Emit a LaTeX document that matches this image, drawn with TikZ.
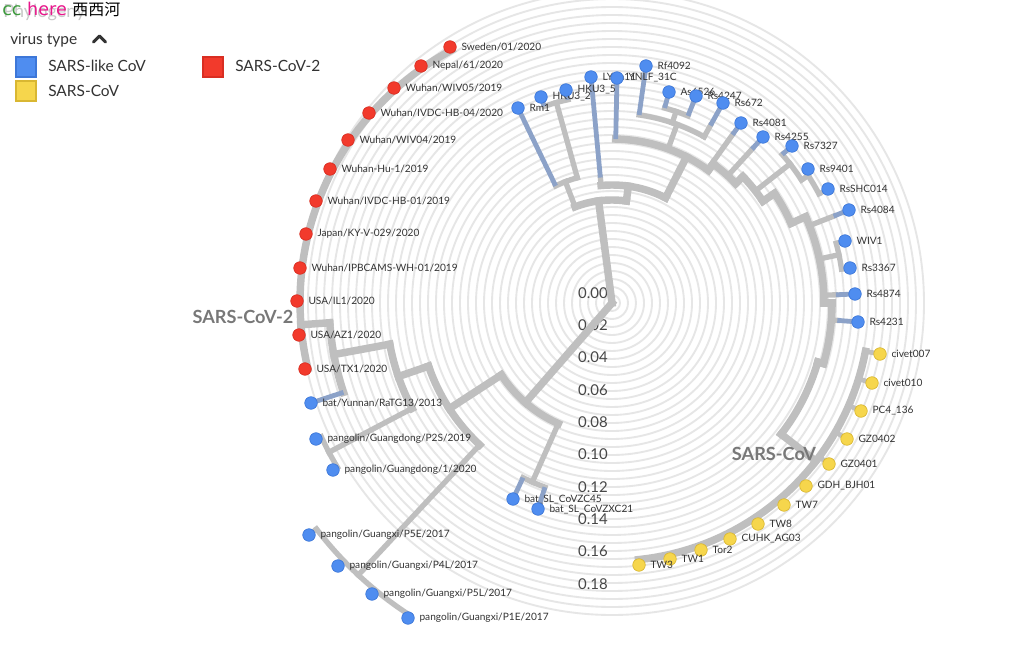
\documentclass[tikz,border=0pt]{standalone}
\usepackage{fontspec}
\setmainfont{Lato}
\newfontfamily\cjk{Noto Sans CJK SC}
\newfontfamily\dejavu{DejaVu Sans}
\definecolor{brg}{HTML}{BFBFBF}
\definecolor{leafb}{HTML}{8CA2C8}
\definecolor{ringc}{HTML}{E6E6E6}
\definecolor{dotb}{HTML}{4F8DF0}
\definecolor{dotbd}{HTML}{3D77D8}
\definecolor{dotr}{HTML}{F23A2C}
\definecolor{dotrd}{HTML}{D92E22}
\definecolor{doty}{HTML}{F6D64C}
\definecolor{dotyd}{HTML}{D9B732}
\definecolor{txt}{HTML}{333333}
\definecolor{cladec}{HTML}{787878}
\definecolor{ccg}{HTML}{3C9A3C}
\definecolor{herem}{HTML}{E8168B}
\definecolor{phyl}{HTML}{C8C8C8}
\tikzset{
 br/.style={draw=brg, line width=4pt, line cap=rect},
 brk/.style={draw=brg, line width=5.6pt, line cap=rect},
 lf/.style={draw=leafb, line width=3.6pt},
 lfg/.style={draw=brg, line width=3.6pt},
 ring/.style={draw=ringc, line width=1.4pt},
 tipb/.style={circle, fill=dotb, draw=dotbd, line width=0.5pt, minimum size=9.4pt, inner sep=0pt},
 tipr/.style={circle, fill=dotr, draw=dotrd, line width=0.5pt, minimum size=9.4pt, inner sep=0pt},
 tipy/.style={circle, fill=doty, draw=dotyd, line width=0.5pt, minimum size=9.4pt, inner sep=0pt},
 tiplab/.style={anchor=west, font=\fontsize{7.6}{9}\selectfont, text=txt, inner sep=0pt},
 scal/.style={anchor=east, font=\fontsize{11.2}{12}\selectfont, text=txt!90, inner sep=0pt},
 cladelab/.style={anchor=base, font=\bfseries\fontsize{13.6}{14}\selectfont, text=cladec, inner sep=0pt},
 leglab/.style={anchor=base west, font=\fontsize{11.6}{12}\selectfont, text=txt, inner sep=0pt},
 legsq/.style={line width=0.8pt}
}
\newcommand\rad[4][br]{\draw[#1] (#2:#3) -- (#2:#4);}
\newcommand\arcr[4][br]{\draw[#1] plot[domain=#3:#4,samples=40,variable=\t] (\t:#2);}
\newcommand\tipnode[3]{\node[#2] (#1d) at (#1) {};\node[tiplab] (#1l) at ([xshift=3.5pt]#1d.east) {#3};}
\begin{document}
\begin{tikzpicture}[x=0.75pt,y=-0.75pt]
\useasboundingbox (0,0) rectangle (1024,645);
\fill[white] (0,0) rectangle (1024,645);
% rings
\begin{scope}[shift={(612,303)}]
\foreach \k in {1,...,39} {\draw[ring] (0,0) circle[radius=6*\k pt];}
\end{scope}
% scale labels
\foreach \v [count=\i from 0] in {0.00,0.02,0.04,0.06,0.08,0.10,0.12,0.14,0.16,0.18} {
  \node[scal] (s\i) at (608,{293+32.3*\i}) {\v};
}
% tip coordinates
\coordinate (sweden) at (450,47);
\coordinate (nepal) at (421,66);
\coordinate (wiv05) at (394,88);
\coordinate (hb04) at (369,113);
\coordinate (wiv04) at (348,140);
\coordinate (hu1) at (330,169);
\coordinate (hb01) at (316,201);
\coordinate (japan) at (306,234);
\coordinate (ipb) at (300,268);
\coordinate (il1) at (297,301);
\coordinate (az1) at (299,335);
\coordinate (tx1) at (305,369);
\coordinate (ratg) at (311,403);
\coordinate (p2s) at (316,439);
\coordinate (gd1) at (333,470);
\coordinate (p5e) at (309,535);
\coordinate (p4l) at (338,566);
\coordinate (p5l) at (372,594);
\coordinate (p1e) at (408,618);
\coordinate (zc45) at (513,499);
\coordinate (zxc21) at (538,509);
\coordinate (rm1) at (518,108);
\coordinate (hku32) at (541,97);
\coordinate (hku35) at (566,90);
\coordinate (lyra) at (591,77);
\coordinate (ynlf) at (617,78);
\coordinate (rf4092) at (646,66);
\coordinate (as6526) at (669,92);
\coordinate (rs4247) at (696,96);
\coordinate (rs672) at (723,103);
\coordinate (rs4081) at (741,123);
\coordinate (rs4255) at (763,137);
\coordinate (rs7327) at (792,146);
\coordinate (rs9401) at (808,169);
\coordinate (rsshc) at (828,189);
\coordinate (rs4084) at (849,210);
\coordinate (wiv1) at (845,241);
\coordinate (rs3367) at (850,268);
\coordinate (rs4874) at (855,294);
\coordinate (rs4231) at (858,322);
\coordinate (cv007) at (880,354);
\coordinate (cv010) at (872,383);
\coordinate (pc4) at (861,411);
\coordinate (gz0402) at (847,439);
\coordinate (gz0401) at (829,464);
\coordinate (gdh) at (806,486);
\coordinate (tw7) at (784,505);
\coordinate (tw8) at (758,524);
\coordinate (cuhk) at (730,539);
\coordinate (tor2) at (701,550);
\coordinate (tw1) at (670,559);
\coordinate (tw3) at (639,565);
% tree
\begin{scope}[shift={(612,303)}]
% lower clade
\rad[brk]{131}{0}{132}
\arcr[brk]{132}{114}{147}
\rad{114}{132}{196}
\arcr{196}{110}{117}
\draw[lf] (110:196) -- (zxc21);
\draw[lf] (117:196) -- (zc45);
\rad[brk]{147}{132}{194}
\arcr[brk]{194}{133}{161}
\rad{133}{194}{372}
\arcr{372}{122.9}{142.6}
\draw[lfg] (122.9:372) -- (p1e);
\draw[lfg] (129.5:372) -- (p5l);
\draw[lfg] (136.2:372) -- (p4l);
\draw[lfg] (142.6:372) -- (p5e);
\rad[brk]{161}{194}{226}
\arcr[brk]{226}{152.2}{169.5}
\rad{152.2}{226}{320}
\arcr{320}{149.1}{155.3}
\draw[lfg] (149.1:320) -- (gd1);
\draw[lfg] (155.3:320) -- (p2s);
\rad[brk]{169.5}{226}{283}
\arcr[brk]{283}{161.6}{176}
\draw[lf] (161.6:283) -- (ratg);
\rad[brk]{176}{283}{312}
% top clade
\rad[brk]{262.5}{0}{103}
\arcr[brk]{103}{249}{278}
\rad{249}{103}{130}
\arcr{130}{244.3}{254.5}
\draw[lf] (244.3:130) -- (rm1);
\rad{254.5}{130}{208}
\arcr{208}{251}{257.8}
\draw[lf] (251:208) -- (hku32);
\draw[lf] (257.8:208) -- (hku35);
\rad[brk]{278}{103}{118}
\arcr[brk]{118}{264.7}{297}
\rad{264.7}{118}{126}
\draw[lf] (264.7:126) -- (lyra);
\rad[brk]{297}{118}{164}
\arcr[brk]{164}{271.3}{306}
\draw[lf] (271.3:164) -- (ynlf);
% Rf4092 group
\rad{290}{164}{190}
\arcr{190}{278.2}{299}
\draw[lf] (278.2:190) -- (rf4092);
\rad{288.5}{190}{202}
\arcr{202}{285.1}{292.1}
\draw[lf] (285.1:202) -- (as6526);
\draw[lf] (292.1:202) -- (rs4247);
\rad{299}{190}{203}
\draw[lf] (299:203) -- (rs672);
% right ladder
\rad[brk]{306}{164}{172}
\arcr[brk]{172}{306}{316}
\rad[brk]{316}{172}{182}
\arcr[brk]{182}{316}{326}
\rad[brk]{326}{182}{196}
\arcr[brk]{196}{326}{336}
\rad[brk]{336}{196}{212}
\arcr[brk]{212}{336}{360}
\rad[brk]{360}{212}{220}
\arcr[brk]{220}{360}{376}
\rad[brk]{376}{220}{214}
\arcr[brk]{214}{376}{397.8}
% right leaves
\rad{305.6}{164}{207}
\draw[lf] (305.6:207) -- (rs4081);
\rad{312.3}{172}{208}
\draw[lf] (312.3:208) -- (rs4255);
\rad{322}{182}{226}
\arcr{226}{318.9}{327}
\draw[lf] (318.9:226) -- (rs7327);
\rad{327}{226}{234}
\arcr{234}{325.6}{332.2}
\draw[lfg] (325.6:234) -- (rs9401);
\draw[lfg] (332.2:234) -- (rsshc);
\rad{338.6}{212}{238}
\draw[lf] (338.6:238) -- (rs4084);
\rad{348}{212}{232}
\arcr{232}{345.1}{351.6}
\draw[lfg] (345.1:232) -- (wiv1);
\draw[lfg] (351.6:232) -- (rs3367);
\rad{357.9}{212}{224}
\draw[lf] (357.9:224) -- (rs4874);
\rad{364.4}{220}{226}
\draw[lf] (364.4:226) -- (rs4231);
% SARS-CoV clade
\rad[brk]{397.8}{214}{258}
\arcr[brk]{258}{370.8}{444.1}
\foreach \a/\t in {10.8/cv007,17.1/cv010,23.4/pc4,30/gz0402,36.6/gz0401,43.3/gdh,49.6/tw7,56.6/tw8,63.4/cuhk,70.2/tor2,77.2/tw1,84.1/tw3} {\draw[lfg] (\a:258) -- (\t);}
\end{scope}
% SARS-CoV-2 band
\draw[brk] plot[domain=166.5:242.1,samples=50,variable=\t] ({585+285*cos(\t)},{302+285*sin(\t)});
% tips
\tipnode{sweden}{tipr}{Sweden/01/2020}
\tipnode{nepal}{tipr}{Nepal/61/2020}
\tipnode{wiv05}{tipr}{Wuhan/WIV05/2019}
\tipnode{hb04}{tipr}{Wuhan/IVDC-HB-04/2020}
\tipnode{wiv04}{tipr}{Wuhan/WIV04/2019}
\tipnode{hu1}{tipr}{Wuhan-Hu-1/2019}
\tipnode{hb01}{tipr}{Wuhan/IVDC-HB-01/2019}
\tipnode{japan}{tipr}{Japan/KY-V-029/2020}
\tipnode{ipb}{tipr}{Wuhan/IPBCAMS-WH-01/2019}
\tipnode{il1}{tipr}{USA/IL1/2020}
\tipnode{az1}{tipr}{USA/AZ1/2020}
\tipnode{tx1}{tipr}{USA/TX1/2020}
\tipnode{ratg}{tipb}{bat/Yunnan/RaTG13/2013}
\tipnode{p2s}{tipb}{pangolin/Guangdong/P2S/2019}
\tipnode{gd1}{tipb}{pangolin/Guangdong/1/2020}
\tipnode{p5e}{tipb}{pangolin/Guangxi/P5E/2017}
\tipnode{p4l}{tipb}{pangolin/Guangxi/P4L/2017}
\tipnode{p5l}{tipb}{pangolin/Guangxi/P5L/2017}
\tipnode{p1e}{tipb}{pangolin/Guangxi/P1E/2017}
\tipnode{zc45}{tipb}{bat\_SL\_CoVZC45}
\tipnode{zxc21}{tipb}{bat\_SL\_CoVZXC21}
\tipnode{rm1}{tipb}{Rm1}
\tipnode{hku32}{tipb}{HKU3\_2}
\tipnode{hku35}{tipb}{HKU3\_5}
\tipnode{lyra}{tipb}{LYRa11}
\tipnode{ynlf}{tipb}{YNLF\_31C}
\tipnode{rf4092}{tipb}{Rf4092}
\tipnode{as6526}{tipb}{As6526}
\tipnode{rs4247}{tipb}{Rs4247}
\tipnode{rs672}{tipb}{Rs672}
\tipnode{rs4081}{tipb}{Rs4081}
\tipnode{rs4255}{tipb}{Rs4255}
\tipnode{rs7327}{tipb}{Rs7327}
\tipnode{rs9401}{tipb}{Rs9401}
\tipnode{rsshc}{tipb}{RsSHC014}
\tipnode{rs4084}{tipb}{Rs4084}
\tipnode{wiv1}{tipb}{WIV1}
\tipnode{rs3367}{tipb}{Rs3367}
\tipnode{rs4874}{tipb}{Rs4874}
\tipnode{rs4231}{tipb}{Rs4231}
\tipnode{cv007}{tipy}{civet007}
\tipnode{cv010}{tipy}{civet010}
\tipnode{pc4}{tipy}{PC4\_136}
\tipnode{gz0402}{tipy}{GZ0402}
\tipnode{gz0401}{tipy}{GZ0401}
\tipnode{gdh}{tipy}{GDH\_BJH01}
\tipnode{tw7}{tipy}{TW7}
\tipnode{tw8}{tipy}{TW8}
\tipnode{cuhk}{tipy}{CUHK\_AG03}
\tipnode{tor2}{tipy}{Tor2}
\tipnode{tw1}{tipy}{TW1}
\tipnode{tw3}{tipy}{TW3}
% clade labels
\node[cladelab] (cl2) at (243,323) {SARS-CoV-2};
\node[cladelab] (cl1) at (774,460) {SARS-CoV};
% header
\node[anchor=base west, inner sep=0pt, font=\fontsize{13.5}{14}\selectfont, text=phyl] (phy) at (3,18) {Phylogeny};
\node[anchor=base west, inner sep=0pt, font=\fontsize{13.2}{14}\selectfont] (cc) at (2,16) {\dejavu{\color{ccg}cc} {\color{herem}here} \cjk{\fontsize{12}{14}\selectfont\color{black}西西河}};
% legend
\node[leglab] (vt) at (10,45) {virus type};
\draw[line width=2.2pt, draw=txt, line cap=round, line join=round] (93.5,42) -- (99.5,36) -- (105.5,42);
\draw[legsq, fill=dotb, draw=dotbd] (16,57) rectangle (36,77);
\draw[legsq, fill=dotr, draw=dotrd] (203,57) rectangle (223,77);
\draw[legsq, fill=doty, draw=dotyd] (16,81) rectangle (36,101);
\node[leglab] (l1) at (48,72) {SARS-like CoV};
\node[leglab] (l2) at (235,72) {SARS-CoV-2};
\node[leglab] (l3) at (48,97) {SARS-CoV};
\end{tikzpicture}
\end{document}
